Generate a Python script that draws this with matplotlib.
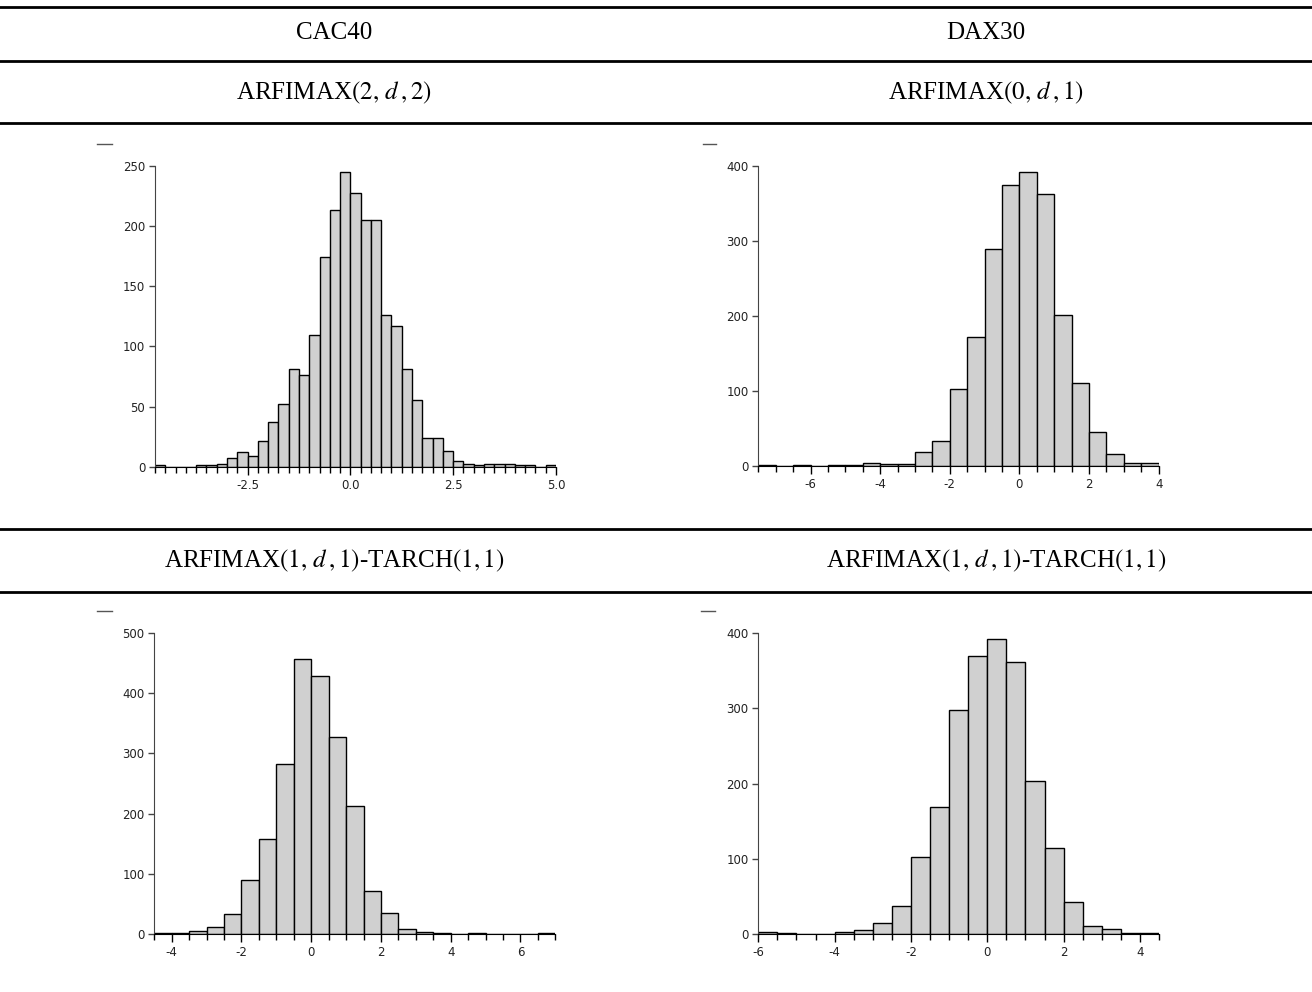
import numpy as np
import matplotlib.pyplot as plt
from matplotlib.lines import Line2D

# header texts
col_titles = ['CAC40', 'DAX30']
model_titles = [r'ARFIMAX$\left(2,\,d\,,2\right)$', r'ARFIMAX$\left(0,\,d\,,1\right)$',
                r'ARFIMAX$\left(1,\,d\,,1\right)$-TARCH$\left(1,1\right)$',
                r'ARFIMAX$\left(1,\,d\,,1\right)$-TARCH$\left(1,1\right)$']

# histogram counts (bin start, bin width, counts)
cac_arfima_start = -4.75
cac_arfima_width = 0.25
cac_arfima_counts = [1, 0, 0, 0, 1, 1, 2, 7, 12, 9, 21, 37, 52, 81, 76, 109, 174, 213, 245, 227,
                     205, 205, 126, 117, 81, 55, 24, 24, 13, 5, 2, 1, 2, 2, 2, 1, 1, 0, 1]

dax_arfima_start = -7.5
dax_arfima_width = 0.5
dax_arfima_counts = [1, 0, 1, 0, 1, 1, 4, 2, 3, 18, 33, 102, 172, 289, 374, 391, 362, 201,
                     110, 45, 16, 4, 4]

cac_tarch_start = -4.5
cac_tarch_width = 0.5
cac_tarch_counts = [1, 1, 5, 11, 34, 90, 158, 282, 456, 429, 328, 213, 71, 35, 9, 3, 2, 0, 1,
                    0, 0, 0, 1]

dax_tarch_start = -6.0
dax_tarch_width = 0.5
dax_tarch_counts = [2, 1, 0, 0, 3, 5, 15, 37, 102, 169, 298, 370, 393, 362, 203, 114, 42, 10,
                    6, 1, 1]

# tick settings for each panel
x_major = [[-2.5, 0.0, 2.5, 5.0], [-6, -4, -2, 0, 2, 4], [-4, -2, 0, 2, 4, 6], [-6, -4, -2, 0, 2, 4]]
x_labels = [['-2.5', '0.0', '2.5', '5.0'], ['-6', '-4', '-2', '0', '2', '4'],
            ['-4', '-2', '0', '2', '4', '6'], ['-6', '-4', '-2', '0', '2', '4']]
y_ticks = [[0, 50, 100, 150, 200, 250], [0, 100, 200, 300, 400],
           [0, 100, 200, 300, 400, 500], [0, 100, 200, 300, 400]]

plt.rcParams['axes.unicode_minus'] = False
plt.rcParams['mathtext.fontset'] = 'stix'

W, H = 1312, 992
fig = plt.figure(figsize=(W / 100, H / 100), dpi=100)

# table style horizontal rules (pixel y positions)
for y in [6.7, 61, 123, 529, 592]:
    fig.add_artist(Line2D([0, 1], [1 - y / H, 1 - y / H], transform=fig.transFigure,
                          color='black', lw=2))

# small dashes above each plot
for x0, x1, y in [(97, 112, 144), (703, 716, 144), (97, 112, 611), (701, 715, 611)]:
    fig.add_artist(Line2D([x0 / W, x1 / W], [1 - y / H, 1 - y / H], transform=fig.transFigure,
                          color='#555555', lw=1))

serif = ['Liberation Serif', 'DejaVu Serif']
fig.text(334 / W, 1 - 33 / H, col_titles[0], ha='center', va='center', fontsize=18, family=serif)
fig.text(986 / W, 1 - 33 / H, col_titles[1], ha='center', va='center', fontsize=18, family=serif)
fig.text(334 / W, 1 - 93 / H, model_titles[0], ha='center', va='center', fontsize=18, family=serif)
fig.text(986 / W, 1 - 93 / H, model_titles[1], ha='center', va='center', fontsize=18, family=serif)
fig.text(334 / W, 1 - 561 / H, model_titles[2], ha='center', va='center', fontsize=18, family=serif)
fig.text(996 / W, 1 - 561 / H, model_titles[3], ha='center', va='center', fontsize=18, family=serif)

# axes boxes in pixels: left, right, top, bottom
boxes = [(155, 556, 165.7, 466.7), (758.3, 1158.7, 165.7, 466),
         (154.3, 555.3, 633, 934), (758.3, 1159, 633.3, 934)]
hists = [(cac_arfima_start, cac_arfima_width, cac_arfima_counts),
         (dax_arfima_start, dax_arfima_width, dax_arfima_counts),
         (cac_tarch_start, cac_tarch_width, cac_tarch_counts),
         (dax_tarch_start, dax_tarch_width, dax_tarch_counts)]

for i in range(4):
    l, r, t, b = boxes[i]
    ax = fig.add_axes([l / W, 1 - b / H, (r - l) / W, (b - t) / H])
    start, width, counts = hists[i]
    edges = start + width * np.arange(len(counts) + 1)
    ax.bar(edges[:-1], counts, width=width, align='edge', color='#d0d0d0',
           edgecolor='black', linewidth=1)
    ax.set_xlim(edges[0], edges[-1])
    ax.set_ylim(0, y_ticks[i][-1])
    ax.spines['top'].set_visible(False)
    ax.spines['right'].set_visible(False)
    ax.spines['left'].set_color('#444444')
    ax.spines['bottom'].set_color('black')
    ax.set_xticks(x_major[i])
    ax.set_xticklabels(x_labels[i])
    ax.set_xticks(edges, minor=True)
    ax.set_yticks(y_ticks[i])
    ax.tick_params(axis='x', which='major', length=6, width=1, pad=3, labelsize=8.5,
                   labelcolor='#222222')
    ax.tick_params(axis='x', which='minor', length=4, width=1)
    ax.tick_params(axis='y', length=4, width=1, pad=3, labelsize=8.5, labelcolor='#222222',
                   color='#444444')
    for lab in ax.get_xticklabels() + ax.get_yticklabels():
        lab.set_family('DejaVu Sans')

fig.savefig('out.png', dpi=100)
